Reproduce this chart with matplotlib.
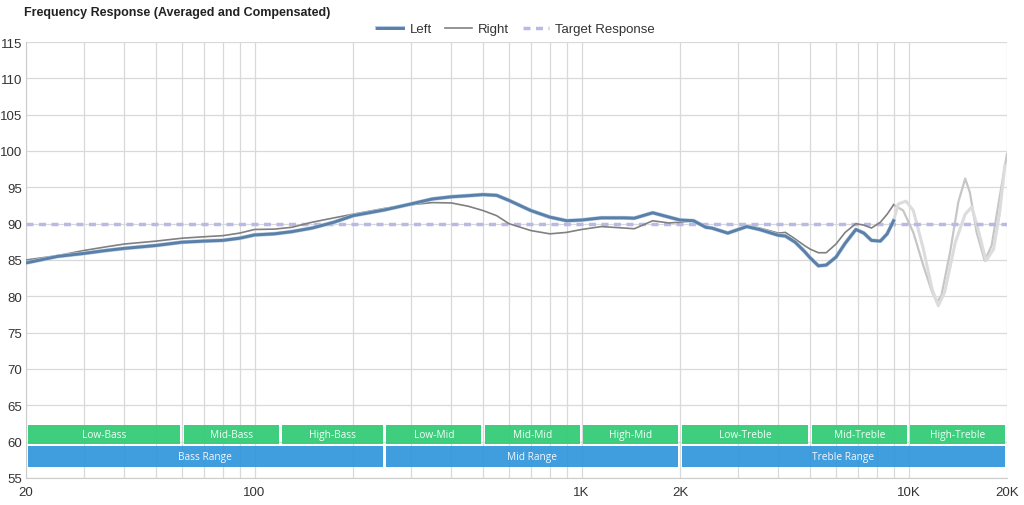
import matplotlib.pyplot as plt
from matplotlib.ticker import FixedLocator, NullFormatter
import matplotlib.patheffects as pe


# -----------------------------------------
# data
# -----------------------------------------
freq = [20, 25, 30, 35, 40, 50, 60, 70, 80, 90, 100, 115, 130, 150, 175, 200,
        250, 300, 350, 400, 450, 500, 550, 600, 700, 800, 900, 1000, 1150, 1350,
        1450, 1650, 1850, 2000, 2200, 2400, 2500, 2800, 3200, 3500, 4000, 4200,
        4500, 4800, 5000, 5300, 5600, 6000, 6400, 6900, 7300, 7700, 8200, 8600,
        9000]
left = [84.6, 85.5, 85.9, 86.3, 86.6, 87.0, 87.45, 87.6, 87.7, 88.0, 88.45, 88.6,
        88.9, 89.4, 90.2, 91.1, 91.9, 92.7, 93.4, 93.7, 93.85, 94.0, 93.9, 93.2,
        91.8, 90.9, 90.4, 90.5, 90.8, 90.8, 90.75, 91.5, 90.9, 90.5, 90.4, 89.5,
        89.4, 88.7, 89.6, 89.2, 88.4, 88.3, 87.45, 86.2, 85.3, 84.2, 84.3, 85.4,
        87.3, 89.2, 88.7, 87.7, 87.6, 88.6, 90.4]
right = [85.0, 85.6, 86.3, 86.8, 87.2, 87.6, 88.0, 88.2, 88.35, 88.7, 89.2, 89.25,
         89.5, 90.2, 90.8, 91.3, 92.1, 92.6, 92.9, 92.85, 92.4, 91.8, 91.1, 90.0,
         89.05, 88.6, 88.8, 89.2, 89.6, 89.4, 89.3, 90.4, 90.1, 90.2, 90.4, 89.5,
         89.4, 88.8, 89.7, 89.4, 88.7, 88.8, 87.9, 87.0, 86.5, 86.0, 86.0, 87.2,
         88.8, 90.0, 89.8, 89.4, 90.2, 91.3, 92.6]

# faded part above 9K
right_hi_freq = [9000, 9630, 10340, 11100, 11800, 12200, 12600, 13400, 14200,
                 14900, 15400, 16150, 17100, 17950, 18800, 20000]
right_hi = [92.6, 91.8, 88.8, 84.2, 80.6, 79.2, 80.1, 86.1, 93.0, 96.2, 94.3,
            88.8, 84.9, 87.0, 92.5, 99.6]
left_hi_freq = [9000, 9300, 9820, 10340, 11100, 11800, 12330, 12900, 13900,
                14900, 15600, 16300, 17250, 18200, 19000, 19700]
left_hi = [90.4, 92.7, 93.1, 91.8, 86.5, 81.0, 78.7, 80.6, 87.45, 91.3, 92.3,
           89.3, 84.9, 86.5, 91.6, 98.0]

target = 90

# frequency bands
band_names = ["Low-Bass", "Mid-Bass", "High-Bass", "Low-Mid", "Mid-Mid",
              "High-Mid", "Low-Treble", "Mid-Treble", "High-Treble"]
band_edges = [20, 60, 120, 250, 500, 1000, 2000, 5000, 10000, 20000]
range_names = ["Bass Range", "Mid Range", "Treble Range"]
range_edges = [20, 250, 2000, 20000]

xtick_vals = [20, 100, 1000, 2000, 10000, 20000]
xtick_labels = ["20", "100", "1K", "2K", "10K", "20K"]


# -----------------------------------------
# plot
# -----------------------------------------
plt.rcParams["font.family"] = ["Liberation Sans", "DejaVu Sans"]

fig = plt.figure(figsize=(10.24, 5.06), dpi=100)
ax = fig.add_axes([26 / 1024, 1 - 479 / 506, 981 / 1024, 436 / 506])

ax.set_xscale("log")
ax.set_xlim(20, 20000)
ax.set_ylim(55, 115)

# grid
minor = [m * 10 ** e for e in range(1, 5) for m in range(1, 10)]
minor = [v for v in minor if 20 <= v <= 20000]
ax.xaxis.set_major_locator(FixedLocator(xtick_vals))
ax.xaxis.set_minor_locator(FixedLocator(minor))
ax.xaxis.set_minor_formatter(NullFormatter())
ax.set_xticklabels(xtick_labels)
ax.set_yticks(range(55, 116, 5))
ax.grid(True, which="both", axis="x", color="#d9d9d9", lw=0.9)
ax.grid(True, which="major", axis="y", color="#d9d9d9", lw=0.9)
ax.set_axisbelow(True)
ax.tick_params(which="both", length=0, labelsize=9.5, colors="#333333", pad=2.5)
ax.tick_params(axis="x", pad=6)
for side in ["top", "right"]:
    ax.spines[side].set_visible(False)
for side in ["left", "bottom"]:
    ax.spines[side].set_color("#cccccc")

# bands
gap = 1.012
band_font = ["Open Sans", "DejaVu Sans"]
for i, name in enumerate(band_names):
    lo, hi = band_edges[i] * gap, band_edges[i + 1] / gap
    ax.fill_between([lo, hi], 59.7, 62.35, color="#33cc77", alpha=0.95, lw=0, zorder=2)
    mid = (lo * hi) ** 0.5
    ax.text(mid, 60.95, name, ha="center", va="center", color="#f2fff6",
            fontsize=7.3, family=band_font, zorder=3)
for i, name in enumerate(range_names):
    lo, hi = range_edges[i] * gap, range_edges[i + 1] / gap
    ax.fill_between([lo, hi], 56.5, 59.4, color="#3598dd", alpha=0.95, lw=0, zorder=2)
    mid = (lo * hi) ** 0.5
    ax.text(mid, 57.9, name, ha="center", va="center", color="#f2f8ff",
            fontsize=7.3, family=band_font, zorder=3)

# curves
ax.plot(right_hi_freq, right_hi, color="#c6c6c6", lw=1.6, zorder=4)
ax.plot(left_hi_freq, left_hi, color="#dcdcdc", lw=2.2, zorder=4)
ax.axhline(target, color="#b9b9e6", lw=2.5, dashes=(2, 1.6), zorder=4,
           label="Target Response")
ax.plot(freq, right, color="#808080", lw=1.2, zorder=5, label="Right")
ax.plot(freq, left, color="#5a7fa8", lw=2.1, zorder=6, label="Left",
        path_effects=[pe.Stroke(linewidth=2.9, foreground="#b7cde4"), pe.Normal()])

handles, labels = ax.get_legend_handles_labels()
order = [2, 1, 0]
fig.legend([handles[i] for i in order], [labels[i] for i in order],
           loc="center", bbox_to_anchor=(516 / 1024, 1 - 30 / 506), ncol=3,
           frameon=False, fontsize=9.5, handlelength=2.0, columnspacing=1.0,
           handletextpad=0.5, labelcolor="#333333")

fig.text(24 / 1024, 1 - 13 / 506, "Frequency Response (Averaged and Compensated)",
         fontsize=9, fontweight="bold", color="#222222", va="center", ha="left")

fig.savefig("out.png", dpi=100)
